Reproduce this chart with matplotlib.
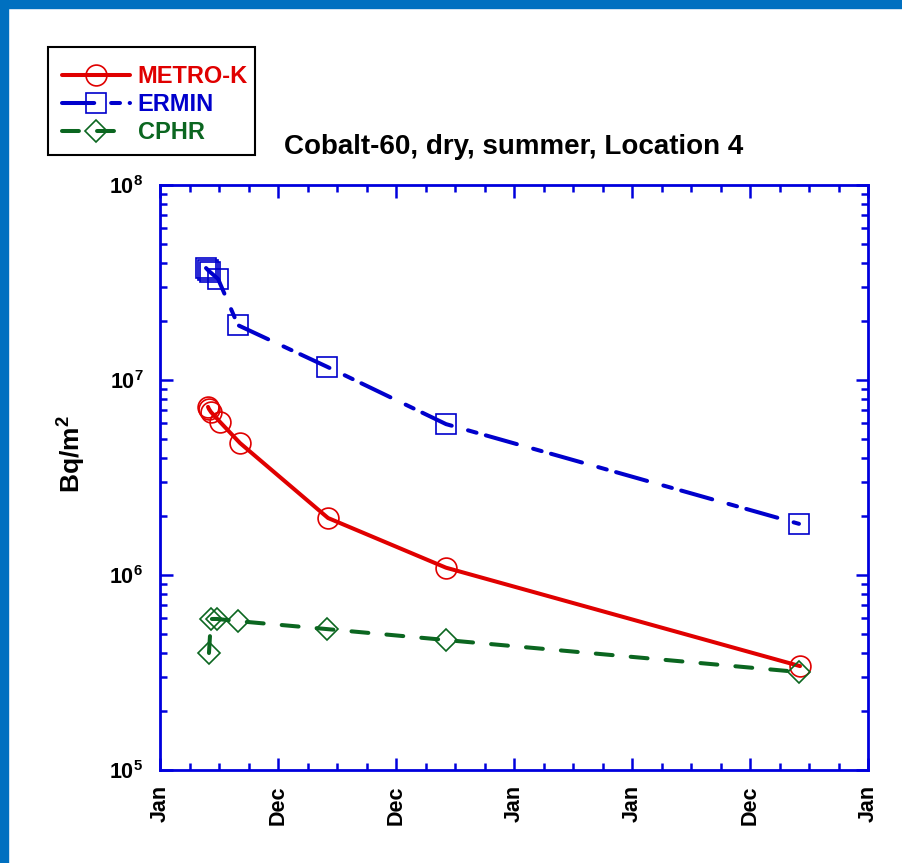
import math
import matplotlib
matplotlib.use("Agg")
import matplotlib.pyplot as plt
from matplotlib.patches import Rectangle
from matplotlib.ticker import FixedLocator, LogLocator, FuncFormatter, NullFormatter

# values (x in major-tick units, y in Bq/m2)
metro_t = [0.407, 0.415, 0.432, 0.508, 0.678, 1.424, 2.424, 5.424]
metro_v = [7.28e6, 7.10e6, 6.85e6, 6.10e6, 4.75e6, 1.96e6, 1.09e6, 3.41e5]

ermin_t = [0.39, 0.407, 0.424, 0.492, 0.661, 1.415, 2.424, 5.415]
ermin_v = [3.75e7, 3.66e7, 3.58e7, 3.30e7, 1.91e7, 1.17e7, 5.94e6, 1.83e6]

cphr_t = [0.415, 0.432, 0.483, 0.661, 1.415, 2.424, 5.415]
cphr_v = [3.98e5, 5.95e5, 5.95e5, 5.80e5, 5.28e5, 4.64e5, 3.18e5]

xtick_pos = [0, 1, 2, 3, 4, 5, 6]
xtick_labels = ["Jan", "Dec", "Dec", "Jan", "Jan", "Dec", "Jan"]

RED = "#E00000"
BLUE = "#0000CC"
GREEN = "#0B6620"
AXBLUE = "#0000DD"
FRAME = "#0070C0"

plt.rcParams["font.family"] = "Liberation Sans"
plt.rcParams["font.weight"] = "bold"
plt.rcParams["mathtext.fontset"] = "custom"
plt.rcParams["mathtext.rm"] = "Liberation Sans:bold"
plt.rcParams["mathtext.bf"] = "Liberation Sans:bold"
plt.rcParams["mathtext.it"] = "Liberation Sans:bold"
plt.rcParams["mathtext.default"] = "rm"

W, H = 902, 863
fig = plt.figure(figsize=(W / 100, H / 100), dpi=100)
fig.patches.append(Rectangle((0, 1 - 8 / H), 1, 8 / H, transform=fig.transFigure,
                             color=FRAME, zorder=0))
fig.patches.append(Rectangle((0, 0), 8 / W, 1, transform=fig.transFigure,
                             color=FRAME, zorder=0))
# legend box
fig.patches.append(Rectangle((48 / W, 1 - 155 / H), 207 / W, 108 / H,
                             transform=fig.transFigure, facecolor="white",
                             edgecolor="black", lw=1.5, zorder=1))

ax = fig.add_axes([160 / W, 1 - 770 / H, 708 / W, 585 / H])

ax.plot(metro_t, metro_v, color=RED, lw=2.9, marker="o", ms=15, mfc="none",
        mec=RED, mew=1.2, label="METRO-K", solid_capstyle="round")
ax.plot(ermin_t, ermin_v, color=BLUE, lw=2.9, ls=(0, (8, 4.2, 2.2, 2.4)),
        dash_capstyle="round", marker="s", ms=14.5, mfc="none", mec=BLUE,
        mew=1.2, label="ERMIN")
ax.plot(cphr_t, cphr_v, color=GREEN, lw=2.9, ls=(0, (4.2, 4.5)),
        dash_capstyle="round", marker="D", ms=11.5, mfc="none", mec=GREEN,
        mew=1.2, label="CPHR")

ax.set_yscale("log")
ax.set_ylim(1e5, 1e8)
ax.set_xlim(0, 6)
ax.yaxis.set_major_locator(LogLocator(base=10, numticks=10))
ax.yaxis.set_minor_locator(LogLocator(base=10, subs=range(2, 10), numticks=10))
ax.yaxis.set_major_formatter(FuncFormatter(lambda v, p: r"$10^{%d}$" % round(math.log10(v))))
ax.yaxis.set_minor_formatter(NullFormatter())
ax.xaxis.set_major_locator(FixedLocator(xtick_pos))
ax.xaxis.set_minor_locator(FixedLocator([i * 0.25 for i in range(25)]))
ax.set_xticklabels(xtick_labels, rotation=90)

for s in ax.spines.values():
    s.set_color(AXBLUE)
    s.set_linewidth(2)
ax.tick_params(which="both", direction="in", top=True, right=True,
               color=AXBLUE, width=1.8)
ax.tick_params(which="major", length=9, labelsize=15.5)
ax.tick_params(which="minor", length=5)
ax.tick_params(axis="y", which="major", pad=12)
ax.tick_params(axis="x", which="major", pad=11)

ax.set_title("Cobalt-60, dry, summer, Location 4", fontsize=20,
             fontweight="bold", pad=22)
fig.text(72 / W, 1 - 454 / H, r"Bq/m$^2$", rotation=90, ha="center",
         va="center", fontsize=19)

leg = fig.legend(loc="upper left", bbox_to_anchor=(62 / W, 1 - 65 / H),
                 frameon=False, borderaxespad=0, borderpad=0,
                 handlelength=2.9, handletextpad=0.3, labelspacing=0.22,
                 prop=dict(size=17, weight="bold"), labelcolor="linecolor")
leg.set_zorder(2)

fig.savefig("out.png", dpi=100)
